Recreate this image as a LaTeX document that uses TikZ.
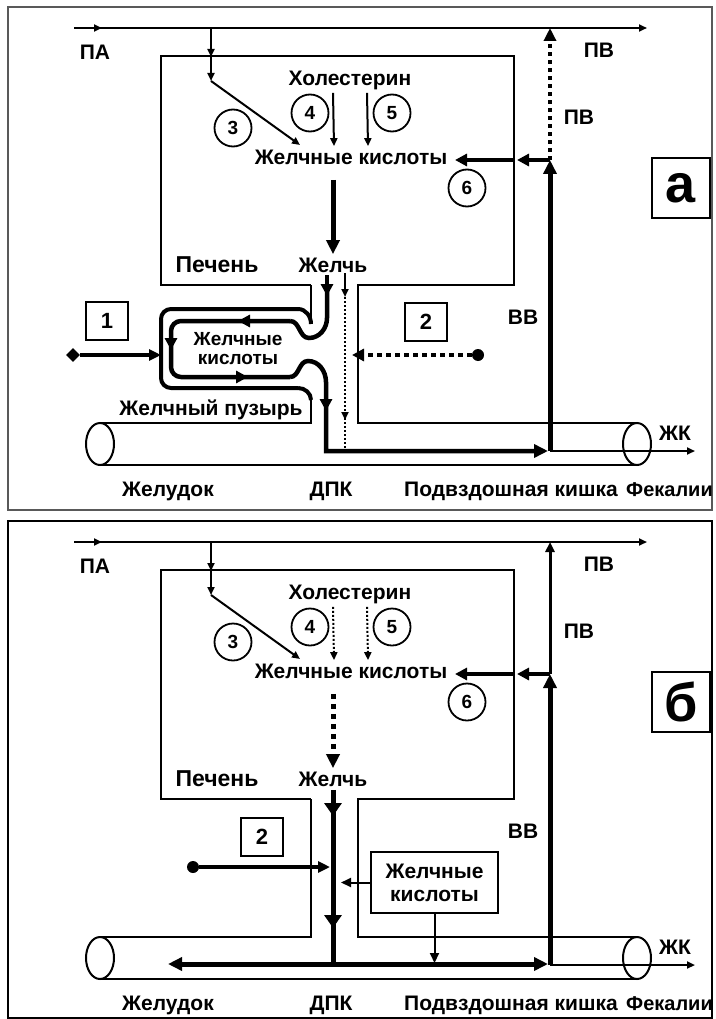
\documentclass[tikz,border=0pt]{standalone}
\usepackage{fontspec}
\setmainfont{Liberation Sans}
\usetikzlibrary{arrows.meta,shapes.geometric}

\begin{document}
\begin{tikzpicture}[
    x=1pt, y=-1pt,
    font=\fontsize{21}{23}\selectfont\bfseries,
    wall/.style={line width=2pt},
    bladder/.style={line width=4pt},
    flowline/.style={line width=4.5pt},
    thinarrow/.style={line width=2pt, -{Triangle[length=8pt,width=7pt]}},
    midarrow/.style={line width=4pt, -{Triangle[length=12pt,width=12pt]}},
    bigarrow/.style={line width=5pt, -{Triangle[length=14pt,width=13pt]}},
    ducttip/.style={line width=5pt, -{Triangle[length=13pt,width=17pt]}},
    finedots/.style={dash pattern=on 2pt off 2pt},
    squaredots/.style={dash pattern=on 4pt off 4pt},
    num/.style={draw, circle, line width=1.8pt, minimum size=37pt, inner sep=0pt,
        font=\fontsize{19}{19}\selectfont\bfseries},
    numbox/.style={draw, line width=1.5pt, minimum width=42pt, minimum height=38pt,
        inner sep=0pt, font=\fontsize{22}{22}\selectfont\bfseries},
    srcdot/.style={fill, circle, inner sep=0pt, minimum size=12pt},
    bottomlbl/.style={anchor=base, inner sep=0pt}
]
\useasboundingbox (0,0) rectangle (715,1019);

% рамки
\draw[black!65, line width=2pt] (8,7) rectangle (712,510);
\draw[line width=1.5pt] (8,521) rectangle (712,1018);

% общее для схем а и б
\foreach \pan/\dy/\lbl in {a/0/а, b/514/б}{
\begin{scope}[yshift=-\dy pt]
    % воротная и печёночная вены
    \draw[thinarrow] (74,28) -- (102,28);
    \draw[thinarrow] (100,28) -- (647,28);
    \node (PA\pan) at (95,52) {ПА};
    \node (PV\pan) at (599,50) {ПВ};
    \node (PVin\pan) at (579,117) {ПВ};
    \coordinate (Fork\pan) at (211,28);
    \coordinate (Turn\pan) at (211,81);
    \draw[thinarrow] (Fork\pan) -- (211,57);
    \draw[thinarrow] (211,55) -- (Turn\pan);

    % печень
    \draw[wall] (311,285) -- (161,285) -- (161,56) -- (514,56) -- (514,285)
        -- (358,285) -- (358,423) -- (637,423);
    \node[font=\fontsize{23}{23}\selectfont\bfseries] (Liver\pan) at (217,265) {Печень};
    \node (Chol\pan) at (350,80) {Холестерин};
    \node (Acid\pan) at (351,157) {Желчные кислоты};
    \node (Bile\pan) at (333,265) {Желчь};
    \draw[thinarrow] (Turn\pan) -- (300,145);
    \node[num] (n3\pan) at (233,128) {3};
    \node[num] (n4\pan) at (310,113) {4};
    \node[num] (n5\pan) at (392,113) {5};
    \node[num] (n6\pan) at (467,188) {6};

    % кишечник
    \draw[wall] (100,465) -- (637,465);
    \draw[wall] (100,444) ellipse (14pt and 21pt);
    \draw[wall] (637,444) ellipse (14pt and 21pt);
    \node[bottomlbl] (St\pan) at (168,496) {Желудок};
    \node[bottomlbl] (Du\pan) at (331,496) {ДПК};
    \node[bottomlbl] (Il\pan) at (511,496) {Подвздошная кишка};
    \node[bottomlbl, anchor=base east, font=\fontsize{20}{22}\selectfont\bfseries]
        (Fe\pan) at (713,496) {Фекалии};

    % возврат по воротной вене
    \coordinate (Join\pan) at (550,160);
    \coordinate (Exit\pan) at (550,451);
    \draw[bigarrow] (Exit\pan) -- (Join\pan);
    \draw[thinarrow] (Exit\pan) -- (695,451);
    \draw[midarrow] (Join\pan) -- (517,160);
    \draw[midarrow] (514,160) -- (455,160);
    \node (BB\pan) at (523,317) {ВВ};
    \node (FA\pan) at (675,433) {ЖК};
    \node[numbox, font=\fontsize{54}{54}\selectfont\bfseries,
        minimum width=58pt, minimum height=60pt] (Pan\pan) at (681,188) {\lbl};
\end{scope}
}

% а: желчь идёт в пузырь
\draw[wall] (311,285) -- (311,324);
\draw[wall] (311,399) -- (311,423) -- (100,423);
\draw[bladder, rounded corners=10pt] (298,309) -- (161,309) -- (161,388) -- (298,388);
\draw[bladder] (311,324) to[out=90,in=0] (298,309);
\draw[bladder] (298,388) to[out=0,in=90] (311,400);
\draw[midarrow] (327,275) -- (327,296);
\draw[flowline] (327,290) -- (327,318) to[out=-90,in=0] (309,338) to[out=180,in=0] (290,321);
\draw[flowline, rounded corners=10pt] (290,321) -- (171,321) -- (171,377) -- (290,377);
\draw[flowline, -{Triangle[length=14pt,width=13pt]}] (290,377) to[out=0,in=180] (308,361)
    to[out=0,in=90] (326,382) -- (326,451) -- (548,451);
\draw[midarrow] (252,321) -- (238,321);
\draw[midarrow] (171,336) -- (171,350);
\draw[midarrow] (234,377) -- (248,377);
\draw[midarrow] (326,397) -- (326,411);
\node[align=center, font=\fontsize{19}{19}\selectfont\bfseries] (Store) at (238,349) {Желчные\\кислоты};
\node (GB) at (211,410) {Желчный пузырь};
\node[numbox] (t1) at (107,321) {1};
\node[fill, diamond, inner sep=0pt, minimum size=14pt] (src1) at (73,355) {};
\draw[line width=3.5pt, -{Triangle[length=12pt,width=11pt]}] (src1) -- (161,355);
\node[numbox] (t2a) at (426,322) {2};
\node[srcdot] (src2a) at (478,355) {};
\draw[line width=4pt, dash pattern=on 5pt off 4pt, -{Triangle[length=12pt,width=12pt]}] (src2a) -- (352,355);
\draw[thinarrow] (345,273) -- (345,297);
\draw[thinarrow, finedots] (345,297) -- (345,420);
\draw[wall, finedots] (345,418) -- (345,451);
\draw[thinarrow] ([xshift=-17pt]Chola.south) -- ([xshift=-17pt]Acida.north);
\draw[thinarrow] ([xshift=17pt]Chola.south) -- ([xshift=17pt]Acida.north);
\draw[bigarrow, shorten <=12pt] (Acida.south -| Bilea.north) -- (Bilea.north);
\draw[line width=4pt, squaredots, -{Triangle[length=13pt,width=12pt]}] (Joina) -- (550,28);

% б: желчь идёт прямо в кишку
\draw[thinarrow, finedots] ([xshift=-17pt]Cholb.south) -- ([xshift=-17pt]Acidb.north);
\draw[thinarrow, finedots] ([xshift=17pt]Cholb.south) -- ([xshift=17pt]Acidb.north);
\draw[bigarrow, dash pattern=on 5pt off 5pt, shorten <=12pt] (Acidb.south -| Bileb.north) -- (Bileb.north);
\draw[line width=3pt, -{Triangle[length=10pt,width=9pt]}] (Joinb) -- (550,542);
\begin{scope}[yshift=-514pt]
    \draw[wall] (311,285) -- (311,423) -- (100,423);
    \coordinate (Mouth) at (333,450);
    \draw[line width=5pt] (Bileb.south) -- (Mouth);
    \draw[ducttip] (333,288) -- (333,302);
    \draw[ducttip] (333,400) -- (333,414);
    \draw[bigarrow] (Mouth) -- (168,450);
    \draw[bigarrow] (Mouth) -- (548,450);
    \node[numbox] (t2b) at (262,323) {2};
    \node[srcdot] (src2b) at (193,353) {};
    \draw[line width=3.5pt, -{Triangle[length=12pt,width=11pt]}] (src2b) -- (330,353);
    \node[draw, line width=2pt, minimum width=127pt, minimum height=61pt, align=center]
        (Gut) at (434.5,368.5) {Желчные\\кислоты};
    \draw[line width=2pt, -{Triangle[length=10pt,width=9pt]}] (Gut.west) -- ++(-29,0);
    \draw[line width=2pt, -{Triangle[length=10pt,width=9pt]}] (Gut.south) -- ++(0,49);
\end{scope}
\end{tikzpicture}
\end{document}
